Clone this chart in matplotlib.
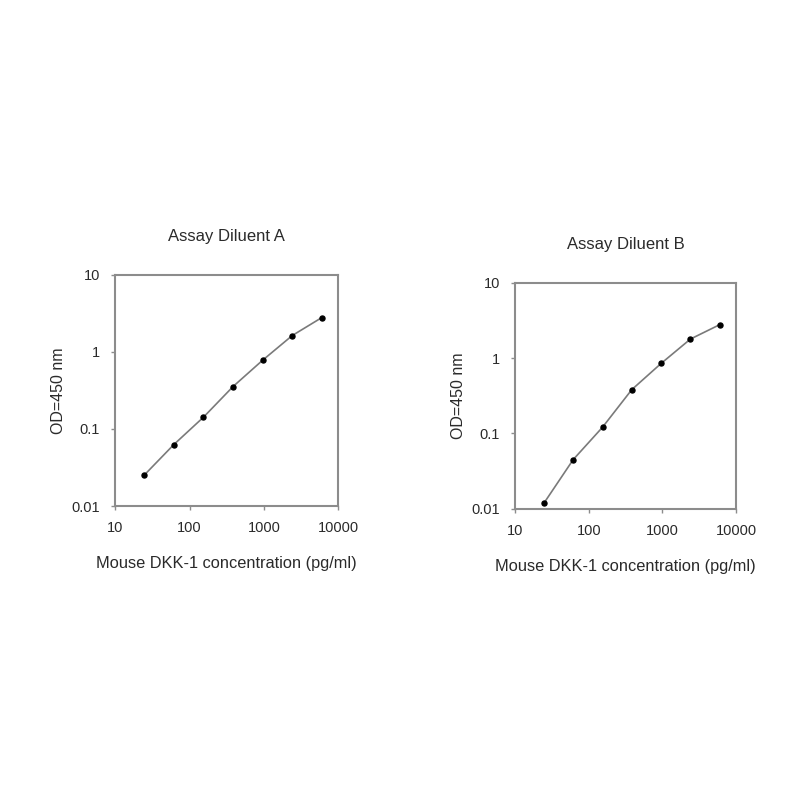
import matplotlib.pyplot as plt

plt.rcParams['font.family'] = ['Liberation Sans', 'DejaVu Sans']

# dilution series (pg/ml) and OD readings
conc = [24.6, 61.4, 153.6, 384, 960, 2400, 6000]
od_a = [0.0252, 0.0627, 0.142, 0.355, 0.78, 1.63, 2.79]
od_b = [0.0119, 0.045, 0.121, 0.382, 0.85, 1.79, 2.78]

titles = ['Assay Diluent A', 'Assay Diluent B']
xlabel = 'Mouse DKK-1 concentration (pg/ml)'
ylabel = 'OD=450 nm'
xticks = [10, 100, 1000, 10000]
yticks = [0.01, 0.1, 1, 10]
ytick_labels = ['0.01', '0.1', '1', '10']

text_c = '#2a2a2a'
frame_c = '#8c8c8c'

fig = plt.figure(figsize=(8, 8), dpi=100)
axes = [fig.add_axes([0.144, 0.3675, 0.279, 0.289]),
        fig.add_axes([0.644, 0.364, 0.276, 0.2825])]

for ax, od, title in zip(axes, [od_a, od_b], titles):
    ax.plot(conc, od, color='#7a7a7a', lw=1.2, marker='o', ms=3.6,
            mfc='black', mec='black', zorder=3)
    ax.set_xscale('log')
    ax.set_yscale('log')
    ax.set_xlim(10, 10000)
    ax.set_ylim(0.01, 10)
    ax.set_xticks(xticks)
    ax.set_xticklabels([str(t) for t in xticks])
    ax.set_yticks(yticks)
    ax.set_yticklabels(ytick_labels)
    ax.minorticks_off()
    ax.tick_params(length=3, width=1, color=frame_c, labelsize=10.5,
                   labelcolor=text_c, pad=8)
    for s in ax.spines.values():
        s.set_color(frame_c)
        s.set_linewidth(1.5)
    ax.set_title(title, fontsize=12, color=text_c, pad=24)
    ax.set_xlabel(xlabel, fontsize=11.8, color=text_c, labelpad=15)
    ax.set_ylabel(ylabel, fontsize=11.5, color=text_c, labelpad=4)

fig.savefig('out.png', dpi=100)
